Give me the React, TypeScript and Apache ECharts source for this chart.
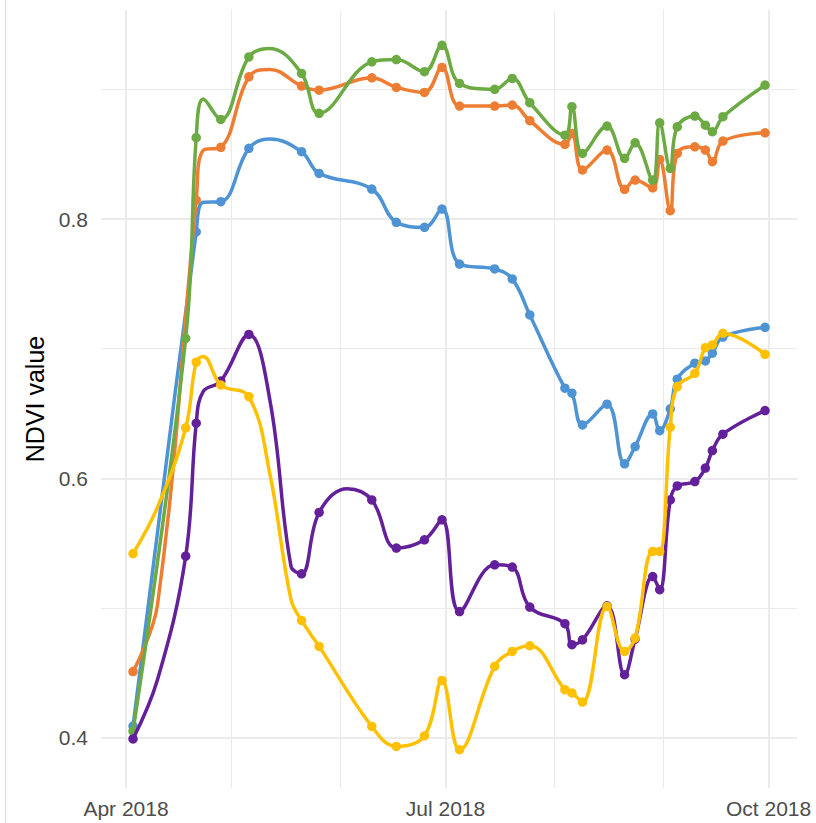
import React, { useEffect, useRef } from "react";
import * as echarts from "echarts";

// Observation dates (shared by all fields)
const dates = [
  "2018-04-03", "2018-04-10", "2018-04-18", "2018-04-21", "2018-04-23", "2018-04-28",
  "2018-05-06", "2018-05-12", "2018-05-18", "2018-05-21", "2018-05-26",
  "2018-06-03", "2018-06-10", "2018-06-17", "2018-06-25", "2018-06-30",
  "2018-07-05", "2018-07-15", "2018-07-20", "2018-07-25", "2018-08-04",
  "2018-08-06", "2018-08-09", "2018-08-16", "2018-08-21", "2018-08-24",
  "2018-08-29", "2018-08-31", "2018-09-03", "2018-09-05", "2018-09-10",
  "2018-09-13", "2018-09-15", "2018-09-18", "2018-09-30",
];
// dates on which the line passes without a plotted point
const knotDates = ["2018-04-10", "2018-04-23", "2018-05-12", "2018-05-18", "2018-06-03"];

const blueValues = [
  0.409, null, null, 0.790, 0.813, 0.8134,
  0.8545, 0.8617, null, 0.8519, 0.8352,
  null, 0.8231, 0.7975, 0.7936, 0.8077,
  0.7653, 0.7615, 0.7538, 0.726, 0.6695,
  0.6657, 0.6412, 0.6572, 0.6112, 0.6245,
  0.6497, 0.6368, 0.6536, 0.6765, 0.6888,
  0.6906, 0.6965, 0.709, 0.7165,
];
const orangeValues = [
  0.451, 0.503, null, 0.8146, 0.853, 0.8553,
  0.9097, 0.9154, null, 0.9025, 0.8994,
  null, 0.9089, 0.9015, 0.8976, 0.9169,
  0.8871, 0.8871, 0.8879, 0.8758, 0.8576,
  0.866, 0.8378, 0.8532, 0.8229, 0.830,
  0.8241, 0.846, 0.8064, 0.8506, 0.8557,
  0.8532, 0.8442, 0.8601, 0.8665,
];
const greenValues = [
  0.405, null, 0.708, 0.8627, 0.8925, 0.8768,
  0.925, 0.9316, null, 0.9123, 0.8815,
  null, 0.9212, 0.923, 0.9136, 0.934,
  0.9046, 0.900, 0.9084, 0.8897, 0.8647,
  0.8866, 0.8506, 0.8717, 0.8468, 0.8588,
  0.830, 0.8742, 0.839, 0.8711, 0.8794,
  0.8724, 0.8673, 0.8789, 0.9033,
];
const purpleValues = [
  0.399, 0.445, 0.540, 0.6425, 0.667, 0.675,
  0.711, 0.660, 0.532, 0.5264, 0.5737,
  0.592, 0.5834, 0.5462, 0.5526, 0.568,
  0.4973, 0.5333, 0.5316, 0.5007, 0.4879,
  0.4717, 0.4755, 0.5017, 0.4486, 0.4761,
  0.5243, 0.5141, 0.5834, 0.5942, 0.5975,
  0.6079, 0.6214, 0.6341, 0.6523,
];
const yellowValues = [
  0.542, 0.578, 0.639, 0.6896, 0.694, 0.672,
  0.663, 0.603, 0.5064, 0.4904, 0.4704,
  null, 0.4087, 0.3933, 0.4015, 0.4442,
  0.3907, 0.455, 0.4665, 0.4709, 0.437,
  0.4345, 0.4275, 0.5012, 0.4665, 0.4768,
  0.5436, 0.5436, 0.6395, 0.6708, 0.681,
  0.7008, 0.7029, 0.7119, 0.6957,
];

const seriesNames = ["Field 1", "Field 2", "Field 3", "Field 4", "Field 5"];
const seriesColors = ["#4E94D4", "#EE7D34", "#6CAA44", "#64209A", "#FFC000"];
const seriesValues = [blueValues, orangeValues, greenValues, purpleValues, yellowValues];

const majorDates = ["2018-04-01", "2018-07-01", "2018-10-01"];
const minorDates = ["2018-05-01", "2018-06-01", "2018-08-01", "2018-09-01"];
const majorY = [0.4, 0.6, 0.8];
const minorY = [0.5, 0.7, 0.9];
const monthNames = ["Jan", "Feb", "Mar", "Apr", "May", "Jun", "Jul", "Aug", "Sep", "Oct", "Nov", "Dec"];

const DAY = 86400000;
const toTime = (s: string) => {
  const [y, m, d] = s.split("-").map(Number);
  return Date.UTC(y, m - 1, d);
};

export default function App() {
  const ref = useRef<HTMLDivElement>(null);

  useEffect(() => {
    if (!ref.current) return;
    const chart = echarts.init(ref.current, undefined, { renderer: "svg" });
    const apr1 = toTime("2018-04-01");
    const xMin = apr1 - 7.12 * DAY;
    const xMax = apr1 + 191.1 * DAY;
    const yMin = 0.3612;
    const yMax = 0.9612;
    const font = "Liberation Sans, Arial, sans-serif";

    const lineSeries = seriesValues.map((vals, si) => {
      const data: any[] = [];
      vals.forEach((v, i) => {
        if (v === null || v === undefined) return;
        const isKnot = knotDates.includes(dates[i]);
        if (isKnot) data.push({ value: [toTime(dates[i]), v], symbol: "none" });
        else data.push({ value: [toTime(dates[i]), v] });
      });
      return {
        name: seriesNames[si],
        type: "line",
        xAxisIndex: 0,
        yAxisIndex: 0,
        data,
        smooth: 0.4,
        symbol: "circle",
        symbolSize: 9.5,
        showSymbol: true,
        showAllSymbol: true,
        lineStyle: { color: seriesColors[si], width: 3.5 },
        itemStyle: { color: seriesColors[si], borderWidth: 0 },
        z: 3 + si,
        silent: true,
      };
    });

    const minorLine = { show: true, lineStyle: { color: "#EBEBEB", width: 1.2 } };
    const majorLine = { show: true, lineStyle: { color: "#EBEBEB", width: 2 } };

    chart.setOption({
      animation: false,
      backgroundColor: "#ffffff",
      grid: { left: 101, right: 19, top: 10, bottom: 35, containLabel: false },
      xAxis: [
        {
          type: "value",
          min: xMin,
          max: xMax,
          axisLine: { show: false },
          axisTick: { show: false, customValues: majorDates.map(toTime) },
          axisLabel: {
            customValues: majorDates.map(toTime),
            color: "#4D4D4D",
            fontSize: 21,
            fontFamily: font,
            margin: 10,
            formatter: (v: number) => {
              const d = new Date(v);
              return monthNames[d.getUTCMonth()] + " " + d.getUTCFullYear();
            },
          },
          splitLine: majorLine,
          z: 1,
        },
        {
          type: "value",
          min: xMin,
          max: xMax,
          axisLine: { show: false },
          axisTick: { show: false, customValues: minorDates.map(toTime) },
          axisLabel: { show: false, customValues: minorDates.map(toTime) },
          splitLine: minorLine,
          z: 0,
        },
      ],
      yAxis: [
        {
          type: "value",
          min: yMin,
          max: yMax,
          name: "NDVI value",
          nameLocation: "middle",
          nameGap: 48,
          nameTextStyle: { color: "#000000", fontSize: 25, fontFamily: font },
          axisLine: { show: false },
          axisTick: { show: false, customValues: majorY },
          axisLabel: {
            customValues: majorY,
            color: "#4D4D4D",
            fontSize: 21,
            fontFamily: font,
            margin: 13,
            formatter: (v: number) => v.toFixed(1),
          },
          splitLine: majorLine,
          z: 1,
        },
        {
          type: "value",
          min: yMin,
          max: yMax,
          axisLine: { show: false },
          axisTick: { show: false, customValues: minorY },
          axisLabel: { show: false, customValues: minorY },
          splitLine: minorLine,
          z: 0,
        },
      ],
      graphic: [
        {
          type: "line",
          shape: { x1: 5.5, y1: 0, x2: 5.5, y2: 823 },
          style: { stroke: "#DDDDDD", lineWidth: 1 },
          silent: true,
        },
      ],
      series: lineSeries,
    });

    return () => chart.dispose();
  }, []);

  return (
    <div
      ref={ref}
      style={{ position: "absolute", left: 0, top: 0, width: 816, height: 823, background: "#fff" }}
    />
  );
}
